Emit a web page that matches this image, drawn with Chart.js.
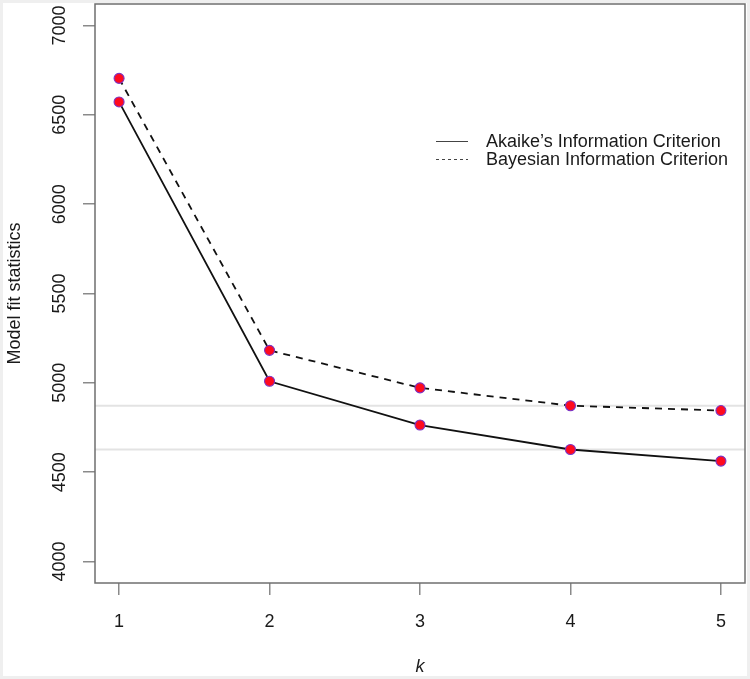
<!DOCTYPE html>
<html>
<head>
<meta charset="utf-8">
<script src="https://cdn.jsdelivr.net/npm/chart.js@4.4.1/dist/chart.umd.min.js"></script>
<style>
  html, body { margin: 0; padding: 0; background: #fff; }
  #wrap { width: 750px; height: 679px; }
</style>
</head>
<body>
<div id="wrap"><canvas id="fitChart" width="750" height="679"></canvas></div>
<script>
// values
const kValues = [1, 2, 3, 4, 5];
const aicValues = [6572, 5009, 4764, 4627, 4562];
const bicValues = [6704, 5182, 4972, 4872, 4845];
const yTickValues = [4000, 4500, 5000, 5500, 6000, 6500, 7000];
const refLineValues = [4872, 4627];
const seriesLabels = ["Akaike’s Information Criterion", "Bayesian Information Criterion"];

const FONT = "'Liberation Sans', Arial, sans-serif";

// plot frame, light reference lines and the legend inside the plot
const framePlugin = {
  id: 'frame',
  beforeDraw(chart) {
    const c = chart.ctx;
    c.save();
    c.fillStyle = '#fff';
    c.fillRect(0, 0, chart.width, chart.height);
    c.strokeStyle = '#efefef';
    c.lineWidth = 3;
    c.strokeRect(1.5, 1.5, chart.width - 3, chart.height - 3);
    c.restore();
  },
  beforeDatasetsDraw(chart) {
    const c = chart.ctx;
    const area = chart.chartArea;
    const y = chart.scales.y;
    c.save();
    c.strokeStyle = '#e3e3e3';
    c.lineWidth = 2;
    refLineValues.forEach(v => {
      const py = y.getPixelForValue(v);
      c.beginPath();
      c.moveTo(area.left, py);
      c.lineTo(area.right, py);
      c.stroke();
    });
    c.restore();
  },
  afterDatasetsDraw(chart) {
    const c = chart.ctx;
    const area = chart.chartArea;
    c.save();
    c.strokeStyle = '#6f6f6f';
    c.lineWidth = 1.5;
    c.strokeRect(area.left, area.top, area.right - area.left, area.bottom - area.top);

    // legend
    const rows = [141.5, 159.5];
    c.font = '18px ' + FONT;
    c.textBaseline = 'middle';
    c.textAlign = 'left';
    chart.data.datasets.forEach((ds, i) => {
      c.strokeStyle = '#444';
      c.lineWidth = 1;
      c.setLineDash(i === 0 ? [] : [3, 3]);
      c.beginPath();
      c.moveTo(436, rows[i]);
      c.lineTo(468, rows[i]);
      c.stroke();
      c.setLineDash([]);
      c.fillStyle = '#1a1a1a';
      c.fillText(ds.label, 486, rows[i] + 1);
    });
    c.restore();
  }
};

const pointStyle = {
  borderColor: '#111',
  borderWidth: 1.8,
  pointRadius: 5,
  pointBackgroundColor: '#ff0a1e',
  pointBorderColor: '#7b33c4',
  pointBorderWidth: 1.1,
  tension: 0,
  fill: false
};

// keep the rotated tick labels from pushing the plot area inwards
function noScalePadding(s) {
  s.paddingTop = 0;
  s.paddingBottom = 0;
  s.paddingLeft = 0;
  s.paddingRight = 0;
}

const ctx = document.getElementById('fitChart');
const chart = new Chart(ctx, {
  type: 'line',
  data: {
    datasets: [
      Object.assign({
        label: seriesLabels[0],
        data: kValues.map((k, i) => ({ x: k, y: aicValues[i] }))
      }, pointStyle),
      Object.assign({
        label: seriesLabels[1],
        data: kValues.map((k, i) => ({ x: k, y: bicValues[i] })),
        borderDash: [7, 6]
      }, pointStyle)
    ]
  },
  options: {
    responsive: false,
    animation: false,
    devicePixelRatio: 1,
    layout: { autoPadding: false, padding: { top: 4, right: 5, left: 0, bottom: 0 } },
    plugins: {
      legend: { display: false },
      tooltip: { enabled: false }
    },
    scales: {
      x: {
        type: 'linear',
        min: 0.84,
        max: 5.16,
        afterBuildTicks: s => { s.ticks = kValues.map(v => ({ value: v })); },
        afterFit: s => { s.height = 96; noScalePadding(s); },
        grid: { drawOnChartArea: false, drawTicks: true, tickLength: 12, color: '#8a8a8a', lineWidth: 1.5 },
        border: { display: false },
        ticks: {
          font: { family: FONT, size: 18 },
          color: '#1a1a1a',
          padding: 16,
          callback: v => String(v)
        },
        title: {
          display: true,
          text: 'k',
          font: { family: FONT, size: 18, style: 'italic' },
          color: '#1a1a1a',
          padding: { top: 0, bottom: 1 }
        }
      },
      y: {
        min: 3880,
        max: 7120,
        afterBuildTicks: s => { s.ticks = yTickValues.map(v => ({ value: v })); },
        afterFit: s => { s.width = 95; noScalePadding(s); },
        grid: { drawOnChartArea: false, drawTicks: true, tickLength: 12, color: '#8a8a8a', lineWidth: 1.5 },
        border: { display: false },
        ticks: {
          font: { family: FONT, size: 18 },
          color: '#1a1a1a',
          minRotation: 90,
          maxRotation: 90,
          crossAlign: 'center',
          padding: 3,
          callback: v => String(v)
        },
        title: {
          display: true,
          text: 'Model fit statistics',
          font: { family: FONT, size: 18 },
          color: '#1a1a1a',
          padding: { top: 4, bottom: 0 }
        }
      }
    }
  },
  plugins: [framePlugin]
});
</script>
</body>
</html>
